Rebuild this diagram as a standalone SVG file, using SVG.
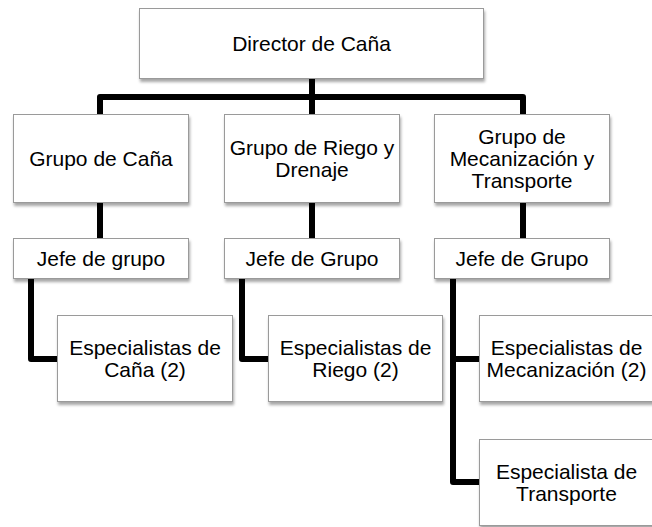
<svg xmlns="http://www.w3.org/2000/svg" width="652" height="527" viewBox="0 0 652 527">
<defs>
<filter id="sh" x="-10%" y="-10%" width="130%" height="140%">
<feGaussianBlur in="SourceAlpha" stdDeviation="1.5"/>
<feOffset dx="1" dy="2.5" result="b"/>
<feComponentTransfer><feFuncA type="linear" slope="0.35"/></feComponentTransfer>
<feMerge><feMergeNode/><feMergeNode in="SourceGraphic"/></feMerge>
</filter>
<style>
.box{fill:#fff;stroke:#9a9a9a;stroke-width:1;filter:url(#sh)}
.t{font-family:"Liberation Sans",Arial,sans-serif;font-size:21px;fill:#000;text-anchor:middle}
.c{fill:none;stroke:#000;stroke-width:6;stroke-linejoin:round;stroke-linecap:butt}
</style>
</defs>
<rect width="652" height="527" fill="#fff"/>
<g id="connectors">
<path class="c" d="M312 78 V114"/>
<path class="c" d="M100 114 V97 H523 V114"/>
<path class="c" d="M100 202 V238"/>
<path class="c" d="M312 202 V238"/>
<path class="c" d="M523 202 V238"/>
<path class="c" d="M31 278 V359 H57"/>
<path class="c" d="M242 278 V359 H268"/>
<path class="c" d="M453 278 V482 H479"/>
<path class="c" d="M453 359 H479"/>
</g>
<g id="director"><rect class="box" x="139.5" y="8.5" width="344" height="70"/><text class="t" x="311.5" y="50.5">Director de Caña</text></g>
<g id="grupo-cana"><rect class="box" x="13.5" y="114.5" width="175" height="88"/><text class="t" x="101" y="165.5">Grupo de Caña</text></g>
<g id="grupo-riego"><rect class="box" x="224.5" y="114.5" width="175" height="88"/><text class="t" x="312" y="154.5">Grupo de Riego y</text><text class="t" x="312" y="176.5">Drenaje</text></g>
<g id="grupo-mecanizacion"><rect class="box" x="434.5" y="114.5" width="175" height="88"/><text class="t" x="522" y="143.5">Grupo de</text><text class="t" x="522" y="165.5">Mecanización y</text><text class="t" x="522" y="187.5">Transporte</text></g>
<g id="jefe-1"><rect class="box" x="13.5" y="238.5" width="175" height="40"/><text class="t" x="101" y="265.5">Jefe de grupo</text></g>
<g id="jefe-2"><rect class="box" x="224.5" y="238.5" width="175" height="40"/><text class="t" x="312" y="265.5">Jefe de Grupo</text></g>
<g id="jefe-3"><rect class="box" x="434.5" y="238.5" width="175" height="40"/><text class="t" x="522" y="265.5">Jefe de Grupo</text></g>
<g id="esp-cana"><rect class="box" x="57.5" y="315.5" width="175" height="86"/><text class="t" x="145" y="354.5">Especialistas de</text><text class="t" x="145" y="376.5">Caña (2)</text></g>
<g id="esp-riego"><rect class="box" x="268.5" y="315.5" width="174" height="86"/><text class="t" x="355.5" y="354.5">Especialistas de</text><text class="t" x="355.5" y="376.5">Riego (2)</text></g>
<g id="esp-mecanizacion"><rect class="box" x="479.5" y="315.5" width="175" height="86"/><text class="t" x="566.5" y="354.5">Especialistas de</text><text class="t" x="566.5" y="376.5">Mecanización (2)</text></g>
<g id="esp-transporte"><rect class="box" x="479.5" y="439.5" width="175" height="86"/><text class="t" x="566.5" y="478.5">Especialista de</text><text class="t" x="566.5" y="500.5">Transporte</text></g>
</svg>
